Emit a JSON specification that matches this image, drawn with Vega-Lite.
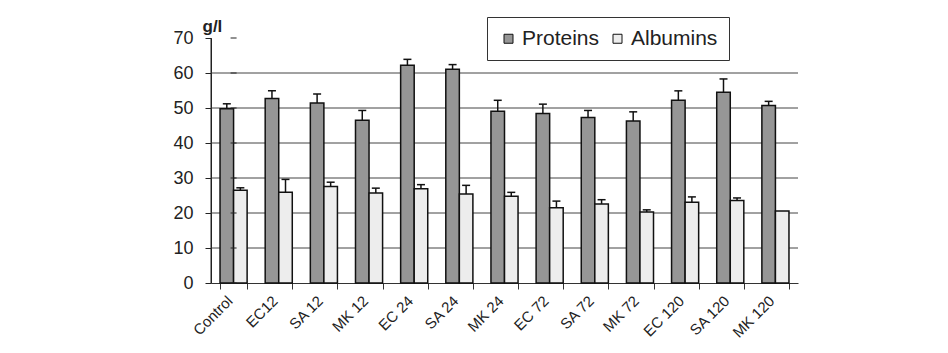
{
  "$schema": "https://vega.github.io/schema/vega-lite/v6.json",
  "autosize": {"type": "none"},
  "width": 587,
  "height": 245,
  "padding": {"left": 211, "top": 38, "right": 150, "bottom": 70},
  "background": "white",
  "config": {
    "font": "Liberation Sans",
    "view": {"stroke": null},
    "axis": {"labelFont": "Liberation Sans", "titleFont": "Liberation Sans", "labelColor": "#222", "titleColor": "#222", "domainColor": "#333", "tickColor": "#333", "domainWidth": 1, "tickWidth": 1},
    "axisY": {
      "values": [0, 10, 20, 30, 40, 50, 60, 70],
      "labelOverlap": false,
      "domain": true,
      "ticks": true,
      "grid": false,
      "domainColor": "#222",
      "tickColor": "#222",
      "labelFontSize": 18,
      "labelPadding": 12,
      "tickSize": 6,
      "titleAngle": 0,
      "titleFontSize": 17,
      "titleFontWeight": "bold",
      "titleAlign": "left",
      "titleBaseline": "alphabetic",
      "titleX": -9,
      "titleY": -7
    }
  },
  "datasets": {
    "levels": [
      {"group": "Control", "series": "Proteins", "value": 49.8, "upper": 51.2},
      {"group": "EC12", "series": "Proteins", "value": 52.7, "upper": 54.9},
      {"group": "SA 12", "series": "Proteins", "value": 51.4, "upper": 54.0},
      {"group": "MK 12", "series": "Proteins", "value": 46.5, "upper": 49.3},
      {"group": "EC 24", "series": "Proteins", "value": 62.2, "upper": 63.9},
      {"group": "SA 24", "series": "Proteins", "value": 61.1, "upper": 62.4},
      {"group": "MK 24", "series": "Proteins", "value": 49.1, "upper": 52.2},
      {"group": "EC 72", "series": "Proteins", "value": 48.4, "upper": 51.1},
      {"group": "SA 72", "series": "Proteins", "value": 47.3, "upper": 49.3},
      {"group": "MK 72", "series": "Proteins", "value": 46.3, "upper": 48.9},
      {"group": "EC 120", "series": "Proteins", "value": 52.2, "upper": 54.9},
      {"group": "SA 120", "series": "Proteins", "value": 54.5, "upper": 58.3},
      {"group": "MK 120", "series": "Proteins", "value": 50.7, "upper": 51.9},
      {"group": "Control", "series": "Albumins", "value": 26.5, "upper": 27.2},
      {"group": "EC12", "series": "Albumins", "value": 25.9, "upper": 29.6},
      {"group": "SA 12", "series": "Albumins", "value": 27.6, "upper": 28.8},
      {"group": "MK 12", "series": "Albumins", "value": 25.7, "upper": 27.1},
      {"group": "EC 24", "series": "Albumins", "value": 26.9, "upper": 28.1},
      {"group": "SA 24", "series": "Albumins", "value": 25.4, "upper": 27.9},
      {"group": "MK 24", "series": "Albumins", "value": 24.8, "upper": 25.9},
      {"group": "EC 72", "series": "Albumins", "value": 21.5, "upper": 23.4},
      {"group": "SA 72", "series": "Albumins", "value": 22.6, "upper": 23.8},
      {"group": "MK 72", "series": "Albumins", "value": 20.3, "upper": 20.9},
      {"group": "EC 120", "series": "Albumins", "value": 23.1, "upper": 24.6},
      {"group": "SA 120", "series": "Albumins", "value": 23.6, "upper": 24.3},
      {"group": "MK 120", "series": "Albumins", "value": 20.6, "upper": null}
    ],
    "scaleSteps": [
      {"level": 0}, {"level": 10}, {"level": 20}, {"level": 30}, {"level": 40}, {"level": 50}, {"level": 60}, {"level": 70}
    ]
  },
  "layer": [
    {
      "data": {"name": "scaleSteps"},
      "transform": [{"filter": "datum.level > 0 && datum.level < 70"}],
      "mark": {"type": "rule", "color": "#444", "strokeWidth": 1},
      "encoding": {
        "y": {"field": "level", "type": "quantitative", "title": "g/l", "scale": {"domain": [0, 70], "nice": false}}
      }
    },
    {
      "data": {"name": "levels"},
      "mark": {"type": "bar", "stroke": "#111", "strokeWidth": 1.5},
      "encoding": {
        "x": {
          "field": "group",
          "type": "nominal",
          "sort": null,
          "scale": {"paddingInner": 0.4, "paddingOuter": 0.2},
          "axis": {
            "title": null,
            "domain": true,
            "labelAngle": -45,
            "labelAlign": "right",
            "labelBaseline": "middle",
            "labelFontSize": 15,
            "labelPadding": 9,
            "labelOffset": -4,
            "tickSize": 6,
            "tickBand": "extent",
            "grid": false
          }
        },
        "xOffset": {"field": "series", "type": "nominal", "sort": ["Proteins", "Albumins"], "scale": {"paddingInner": 0, "paddingOuter": 0}},
        "y": {"field": "value", "type": "quantitative", "title": "g/l"},
        "fill": {
          "field": "series",
          "type": "nominal",
          "sort": ["Proteins", "Albumins"],
          "scale": {"range": ["#969696", "#ededed"]},
          "legend": {
            "title": null,
            "orient": "none",
            "legendX": 276,
            "legendY": -21,
            "direction": "horizontal",
            "strokeColor": "#333",
            "fillColor": "white",
            "padding": 11,
            "labelFont": "Liberation Sans",
            "labelFontSize": 21,
            "labelColor": "#222",
            "symbolType": "square",
            "symbolSize": 81,
            "symbolStrokeColor": "#111",
            "symbolStrokeWidth": 1,
            "symbolOpacity": 1,
            "columnPadding": 7,
            "labelOffset": 3
          }
        }
      }
    },
    {
      "data": {"name": "levels"},
      "transform": [{"filter": "datum.upper != null"}],
      "mark": {"type": "rule", "color": "#111", "strokeWidth": 1.5},
      "encoding": {
        "x": {"field": "group", "type": "nominal", "sort": null},
        "xOffset": {"field": "series", "type": "nominal", "sort": ["Proteins", "Albumins"]},
        "y": {"field": "value", "type": "quantitative", "title": "g/l"},
        "y2": {"field": "upper"}
      }
    },
    {
      "data": {"name": "levels"},
      "transform": [{"filter": "datum.upper != null"}],
      "mark": {"type": "tick", "color": "#111", "thickness": 1.5, "size": 8, "opacity": 1},
      "encoding": {
        "x": {"field": "group", "type": "nominal", "sort": null},
        "xOffset": {"field": "series", "type": "nominal", "sort": ["Proteins", "Albumins"]},
        "y": {"field": "upper", "type": "quantitative", "title": "g/l"}
      }
    },
    {
      "data": {"name": "levels"},
      "transform": [{"filter": "datum.group === 'Control' && datum.series === 'Proteins'"}],
      "mark": {"type": "rule", "color": "#222", "strokeWidth": 1},
      "encoding": {
        "x": {"field": "group", "type": "nominal", "sort": null, "bandPosition": -0.3333},
        "y": {"datum": 0, "type": "quantitative", "title": "g/l"},
        "y2": {"datum": 70}
      }
    },
    {
      "data": {"name": "scaleSteps"},
      "transform": [{"calculate": "'Control'", "as": "group"}],
      "mark": {"type": "tick", "color": "#222", "thickness": 1, "size": 6, "opacity": 1},
      "encoding": {
        "x": {"field": "group", "type": "nominal", "sort": null, "bandPosition": -0.4441},
        "y": {"field": "level", "type": "quantitative", "title": "g/l"}
      }
    }
  ]
}
